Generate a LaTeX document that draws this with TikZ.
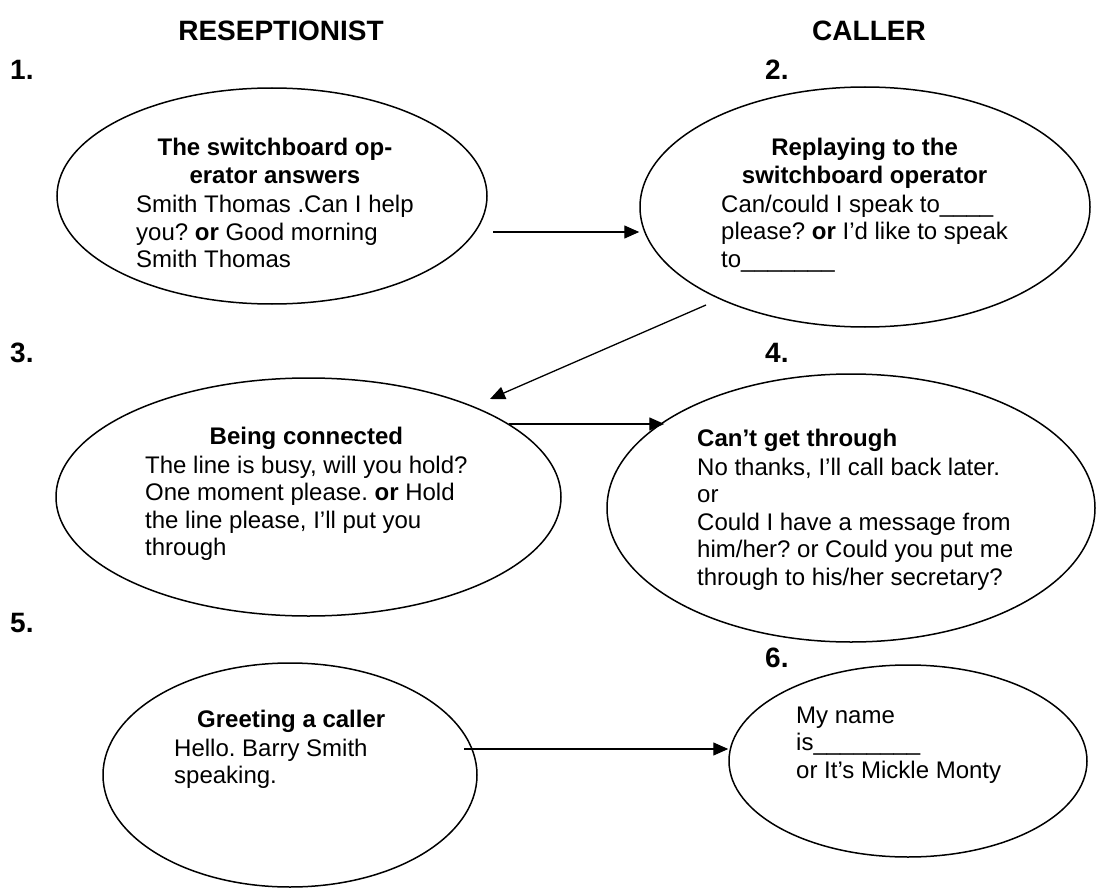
\documentclass[tikz,border=0pt]{standalone}
\usepackage{fontspec}
\setmainfont{Liberation Sans}
\usetikzlibrary{shapes.geometric,arrows.meta}
\newcommand{\hdc}[1]{\multicolumn{1}{@{}c@{}}{\bfseries #1}}
\frenchspacing
\begin{document}
\begin{tikzpicture}[x=1pt,y=-1pt,
  ell/.style={draw, ellipse, line width=1.5pt, inner sep=0pt},
  txt/.style={anchor=base west, inner sep=0pt, font=\fontsize{24}{27.6}\selectfont},
  lbl/.style={anchor=base west, inner sep=0pt, font=\fontsize{28}{32}\selectfont\bfseries},
  ttl/.style={anchor=base, inner sep=0pt, font=\fontsize{28}{32}\selectfont\bfseries},
  arr/.style={line width=1.3pt, -{Triangle[length=15pt,width=13pt]}}]
\useasboundingbox (0,0) rectangle (1101,888);

% titles and numbers
\node[ttl] (h1) at (281,41) {RESEPTIONIST};
\node[ttl] (h2) at (869,41) {CALLER};
\node[lbl] (n1) at (10,80) {1.};
\node[lbl] (n2) at (765,80) {2.};
\node[lbl] (n3) at (10,362) {3.};
\node[lbl] (n4) at (765,362) {4.};
\node[lbl] (n5) at (10,632) {5.};
\node[lbl] (n6) at (765,667) {6.};

% ellipses
\node[ell, minimum width=430pt, minimum height=216pt] (e1) at (272,196) {};
\node[ell, minimum width=450pt, minimum height=240pt] (e2) at (865,207) {};
\node[ell, minimum width=505pt, minimum height=238pt] (e3) at (308.5,497) {};
\node[ell, minimum width=488pt, minimum height=268pt] (e4) at (851,508) {};
\node[ell, minimum width=374pt, minimum height=224pt] (e5) at (290,775) {};
\node[ell, minimum width=358pt, minimum height=192pt] (e6) at (908,761) {};

% texts
\node[txt] (t1) at (136,156) {\begin{tabular}[t]{@{}l@{}}
\hdc{The switchboard op-}\\
\hdc{erator answers}\\[1.5pt]
Smith Thomas .Can I help\\
you? \textbf{or} Good morning\\
Smith Thomas
\end{tabular}};

\node[txt] (t2) at (721,155.5) {\begin{tabular}[t]{@{}l@{}}
\hdc{Replaying to the}\\
\hdc{switchboard operator}\\[1.5pt]
Can/could I speak to\_\_\_\_\\
please? \textbf{or} I’d like to speak\\
to\_\_\_\_\_\_\_
\end{tabular}};

\node[txt] (t3) at (145,444) {\begin{tabular}[t]{@{}l@{}}
\hdc{Being connected}\\[1.5pt]
The line is busy, will you hold?\\
One moment please. \textbf{or} Hold\\
the line please, I’ll put you\\
through
\end{tabular}};

\node[txt] (t4) at (697,446) {\begin{tabular}[t]{@{}l@{}}
\textbf{Can’t get through}\\[1.5pt]
No thanks, I’ll call back later.\\
or\\
Could I have a message from\\
him/her? or Could you put me\\
through to his/her secretary?
\end{tabular}};

\node[txt] (t5) at (174,727) {\begin{tabular}[t]{@{}l@{}}
\multicolumn{1}{@{}l@{}}{\hspace*{23pt}\bfseries Greeting a caller}\\[1.5pt]
Hello. Barry Smith\\
speaking.
\end{tabular}};

\node[txt] (t6) at (796,723) {\begin{tabular}[t]{@{}l@{}}
My name\\
is\_\_\_\_\_\_\_\_\\
or It’s Mickle Monty
\end{tabular}};

% connectors
\coordinate (a1s) at (493,232);
\draw[arr] (a1s) -- (a1s -| e2.west);
\coordinate (a2s) at (706,305);
\coordinate (a2e) at (490,399);
\draw[arr] (a2s) -- (a2e);
\draw[arr] (e3.20.2) -- (e3.20.2 -| e4.155.56);
\coordinate (a4s) at (464,749);
\draw[arr] (a4s) -- (a4s -| e6.west);
\end{tikzpicture}
\end{document}
